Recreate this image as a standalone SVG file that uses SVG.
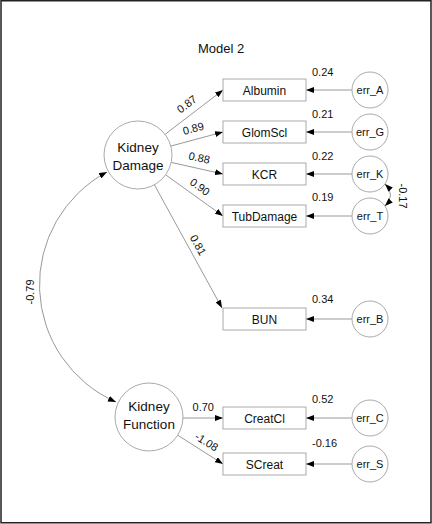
<svg xmlns="http://www.w3.org/2000/svg" width="432" height="524" viewBox="0 0 432 524">
<style>
text{font-family:"Liberation Sans",Arial,sans-serif;fill:#111}
.lat{fill:#fff;stroke:#aaa;stroke-width:1}
.box{fill:#fff;stroke:#aaa;stroke-width:1}
.err{fill:#fff;stroke:#aaa;stroke-width:1}
.c{stroke:#999;stroke-width:1;fill:none;marker-end:url(#ah)}
.cc{stroke:#999;stroke-width:1;fill:none;marker-end:url(#ah);marker-start:url(#ah)}
.lt{font-size:13.5px;text-anchor:middle}
.bt{font-size:12px;text-anchor:middle}
.et{font-size:11px;text-anchor:middle}
.nt{font-size:11px}
.pt{font-size:11px;text-anchor:middle}
</style>
<defs>
<marker id="ah" markerUnits="userSpaceOnUse" markerWidth="8" markerHeight="6" refX="8" refY="3" orient="auto-start-reverse">
<path d="M0,0 L8,3 L0,6 z" fill="#000"/>
</marker>
</defs>
<rect x="1" y="0.75" width="430" height="522" fill="#fff" stroke="#222" stroke-width="1.5"/>
<text x="221" y="53" style="font-size:13px;text-anchor:middle">Model 2</text>

<g id="connectors">
<line class="c" x1="165" y1="134.4" x2="223" y2="90"/>
<line class="c" x1="170.8" y1="146.1" x2="223" y2="132"/>
<line class="c" x1="171.2" y1="162.4" x2="223" y2="174"/>
<line class="c" x1="165.6" y1="174.8" x2="223" y2="216"/>
<line class="c" x1="154.4" y1="184.8" x2="222" y2="308"/>
<line class="c" x1="183" y1="418" x2="223" y2="418"/>
<line class="c" x1="177.7" y1="435.2" x2="223" y2="464"/>
<line class="c" x1="352" y1="90" x2="306" y2="90"/>
<line class="c" x1="352" y1="132" x2="306" y2="132"/>
<line class="c" x1="352" y1="174" x2="306" y2="174"/>
<line class="c" x1="352" y1="216" x2="306" y2="216"/>
<line class="c" x1="352" y1="319" x2="306" y2="319"/>
<line class="c" x1="352" y1="418" x2="306" y2="418"/>
<line class="c" x1="352" y1="464" x2="306" y2="464"/>
<path class="cc" d="M385,184 Q396,195 385,206"/>
<path class="cc" d="M107,172 A128,128 0 0 0 116,402"/>
<text class="pt" transform="translate(186.7,104) rotate(-37)" y="4">0.87</text>
<text class="pt" transform="translate(193.3,128.3) rotate(-15)" y="4">0.89</text>
<text class="pt" transform="translate(199.3,157.7) rotate(12.6)" y="4">0.88</text>
<text class="pt" transform="translate(200,186.7) rotate(36)" y="4">0.90</text>
<text class="pt" transform="translate(198.3,245) rotate(61)" y="4">0.81</text>
<text class="pt" x="203.3" y="411">0.70</text>
<text class="pt" transform="translate(206.7,441.7) rotate(32)" y="4">-1.08</text>
<text class="pt" transform="translate(403,196) rotate(90)" y="4">-0.17</text>
<text class="pt" transform="translate(30,292) rotate(-90)" y="4">-0.79</text>
</g>

<g id="KidneyDamage">
<circle class="lat" cx="138" cy="155" r="34"/>
<text class="lt" x="138" y="152">Kidney</text>
<text class="lt" x="138" y="170">Damage</text>
</g>
<g id="KidneyFunction">
<circle class="lat" cx="149" cy="417" r="34"/>
<text class="lt" x="149" y="411">Kidney</text>
<text class="lt" x="149" y="429">Function</text>
</g>

<g id="Albumin"><rect class="box" x="223" y="79" width="83" height="22"/><text class="bt" x="264.5" y="94.5">Albumin</text><text class="nt" x="312" y="76">0.24</text></g>
<g id="GlomScl"><rect class="box" x="223" y="121" width="83" height="22"/><text class="bt" x="264.5" y="136.5">GlomScl</text><text class="nt" x="312" y="118">0.21</text></g>
<g id="KCR"><rect class="box" x="223" y="163" width="83" height="22"/><text class="bt" x="264.5" y="178.5">KCR</text><text class="nt" x="312" y="160">0.22</text></g>
<g id="TubDamage"><rect class="box" x="223" y="205" width="83" height="22"/><text class="bt" x="264.5" y="220.5">TubDamage</text><text class="nt" x="312" y="201">0.19</text></g>
<g id="BUN"><rect class="box" x="223" y="308" width="83" height="22"/><text class="bt" x="264.5" y="323.5">BUN</text><text class="nt" x="312" y="303">0.34</text></g>
<g id="CreatCl"><rect class="box" x="223" y="407" width="83" height="22"/><text class="bt" x="264.5" y="422.5">CreatCl</text><text class="nt" x="312" y="403">0.52</text></g>
<g id="SCreat"><rect class="box" x="223" y="453" width="83" height="22"/><text class="bt" x="264.5" y="468.5">SCreat</text><text class="nt" x="312" y="447">-0.16</text></g>

<g id="err_A"><circle class="err" cx="370" cy="90" r="18"/><text class="et" x="370" y="94">err_A</text></g>
<g id="err_G"><circle class="err" cx="370" cy="132" r="18"/><text class="et" x="370" y="136">err_G</text></g>
<g id="err_K"><circle class="err" cx="370" cy="174" r="18"/><text class="et" x="370" y="178">err_K</text></g>
<g id="err_T"><circle class="err" cx="370" cy="216" r="18"/><text class="et" x="370" y="220">err_T</text></g>
<g id="err_B"><circle class="err" cx="370" cy="319" r="18"/><text class="et" x="370" y="323">err_B</text></g>
<g id="err_C"><circle class="err" cx="370" cy="418" r="18"/><text class="et" x="370" y="422">err_C</text></g>
<g id="err_S"><circle class="err" cx="370" cy="464" r="18"/><text class="et" x="370" y="468">err_S</text></g>
</svg>
